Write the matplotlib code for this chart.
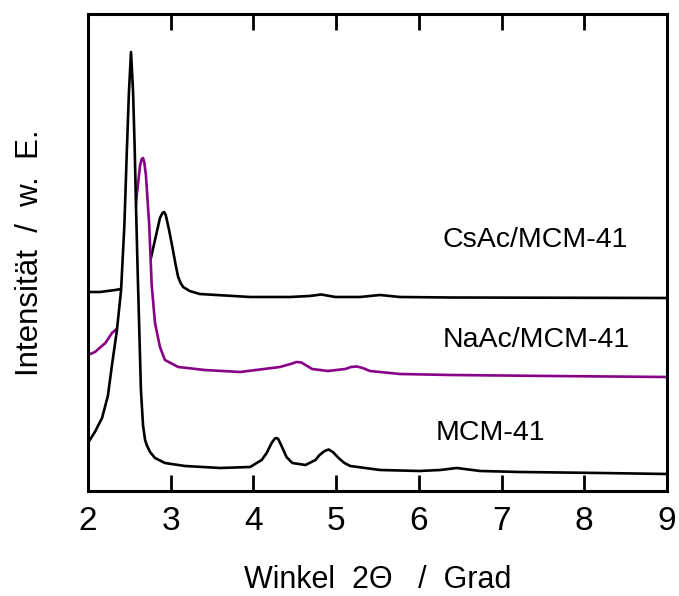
import matplotlib
matplotlib.use("Agg")
import matplotlib.pyplot as plt

plt.rcParams['font.family'] = ['Liberation Sans', 'DejaVu Sans']

# Data (2Theta in degrees, intensity in arbitrary units)
mcm_x = [2.00, 2.03, 2.09, 2.12, 2.17, 2.24, 2.29, 2.35, 2.40, 2.44, 2.47, 2.495, 2.52, 2.545,
         2.565, 2.58, 2.60, 2.62, 2.64, 2.665, 2.69, 2.71, 2.75, 2.81, 2.93, 3.17, 3.60, 3.96,
         4.10, 4.16, 4.22, 4.26, 4.28, 4.30, 4.34, 4.40, 4.47, 4.63, 4.75, 4.80, 4.86, 4.91,
         4.96, 5.03, 5.10, 5.17, 5.53, 6.01, 6.26, 6.46, 6.74, 7.22, 8.19, 9.00]
mcm_y = [48, 52, 60, 65, 73, 95, 126, 161, 201, 266, 341, 399, 439, 399,
         341, 286, 221, 161, 101, 66, 51, 46, 39, 33, 28, 25, 23, 24,
         31, 38, 48, 52.5, 53, 52, 45, 34, 28, 26, 31, 36, 40, 41.5,
         39, 33, 28, 25, 21, 20, 21, 23, 20, 19, 18, 17]

naac_x = [2.00, 2.085, 2.21, 2.29, 2.36, 2.45, 2.53, 2.59, 2.63, 2.65, 2.665, 2.68, 2.70,
          2.74, 2.77, 2.81, 2.87, 2.93, 3.09, 3.41, 3.84, 4.32, 4.45, 4.52, 4.58, 4.65,
          4.71, 4.90, 5.11, 5.18, 5.25, 5.32, 5.41, 5.77, 6.38, 7.59, 9.00]
naac_y = [136, 139, 148, 158, 163, 191, 241, 296, 326, 332, 333, 329, 316,
          266, 206, 168, 144, 131, 124, 121, 119, 124, 127, 129, 128.5, 125,
          122, 120, 122, 124, 124.5, 123, 120, 117, 116, 115, 114]

csac_x = [2.00, 2.145, 2.33, 2.40, 2.48, 2.57, 2.65, 2.75, 2.81, 2.87, 2.90, 2.92, 2.94,
          2.98, 3.02, 3.06, 3.09, 3.12, 3.15, 3.23, 3.35, 3.96, 4.44, 4.68, 4.82, 4.99,
          5.29, 5.53, 5.77, 6.38, 9.00]
csac_y = [199, 199, 201, 202, 216, 233, 236, 229, 251, 273, 278, 279, 276,
          261, 244, 226, 214, 208, 204, 200, 197, 194, 194, 195, 196.5, 194,
          194, 196, 194, 193.5, 193]

labels = ["CsAc/MCM-41", "NaAc/MCM-41", "MCM-41"]
xticks = [2, 3, 4, 5, 6, 7, 8, 9]

fig = plt.figure(figsize=(6.79, 5.96), dpi=100)
ax = fig.add_axes([0.1296, 0.1762, 0.8527, 0.8003])

purple = '#880088'
series = [(csac_x, csac_y, 'black', 1), (naac_x, naac_y, purple, 3), (mcm_x, mcm_y, 'black', 5)]
for xs, ys, col, z in series:
    ax.fill_between(xs, ys, 0, color='white', zorder=z, linewidth=0)
    ax.plot(xs, ys, color=col, lw=1.9, zorder=z + 0.5, solid_joinstyle='round')

ax.set_xlim(2, 9)
ax.set_ylim(0, 477)
ax.set_xticks(xticks)
ax.set_yticks([])
ax.tick_params(axis='x', direction='in', length=11.5, width=2.0, top=True, bottom=True,
               labelsize=24, pad=11)
for s in ax.spines.values():
    s.set_linewidth(2.2)
    s.set_zorder(10)
ax.xaxis.set_zorder(10)

ax.set_xlabel("Winkel  2Θ   /  Grad", fontsize=22, labelpad=20)
ax.set_ylabel("Intensität  /  w.  E.", fontsize=22.5, labelpad=31)

ax.text(6.29, 491 - 240, labels[0], fontsize=20.5, ha='left', va='center', zorder=12)
ax.text(6.29, 491 - 340, labels[1], fontsize=20.5, ha='left', va='center', zorder=12)
ax.text(6.20, 491 - 433, labels[2], fontsize=20.5, ha='left', va='center', zorder=12)

fig.savefig("out.png", dpi=100)
